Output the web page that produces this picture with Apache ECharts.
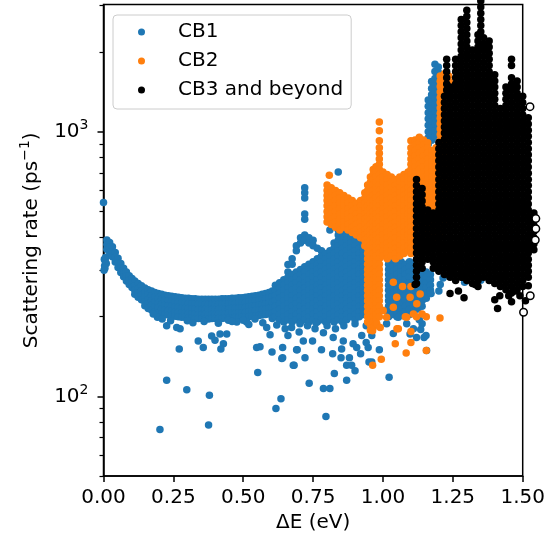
<!DOCTYPE html>
<html>
<head>
<meta charset="utf-8">
<script src="https://cdn.jsdelivr.net/npm/echarts@6.0.0/dist/echarts.min.js"></script>
<style>html,body{margin:0;padding:0;background:#fff}#c{width:551px;height:537px}</style>
</head>
<body>
<div id="c"></div>
<script>
// ---------------- data ----------------
const xTicks = [0, 0.25, 0.5, 0.75, 1.0, 1.25, 1.5];
const yMajorTicks = [100, 1000];
const yMinorTicks = [50, 60, 70, 80, 90, 200, 300, 400, 500, 600, 700, 800, 900, 2000, 3000];
const seriesNames = ['CB1', 'CB2', 'CB3 and beyond'];

// CB1: points at the left edge
const cb1Edge = [[0.0,541],[0.002,300],[0.003,330],[0.004,312],[0.006,325],[0.008,336],[0.01,318],[0.005,305]];
// CB1: the curved band (columns: x, list of y)
const cb1Band = [
[0.012,[390,375,360]],[0.022,[382,366,350]],[0.032,[368,352,337]],[0.042,[350,336,322]],
[0.052,[333,320,307]],[0.062,[318,306,294]],[0.072,[305,294,283]],[0.082,[295,284,273]],
[0.092,[286,275,265]],[0.102,[279,268,258]],[0.112,[273,262,252,243]],[0.124,[267,256,246,237]],
[0.136,[262,251,241,232]],[0.148,[257,247,237,228,220]],[0.160,[253,243,233,224,215]],
[0.172,[250,240,230,221,212]],[0.184,[247,237,227,218,209]],[0.196,[245,235,225,216,207]],
[0.208,[243,233,223,214,205]],[0.220,[241,231,221,212,204]],[0.232,[240,230,220,211,203]],
[0.244,[239,229,219,210,202]],[0.256,[238,228,218,209,201]],[0.268,[237,227,217,208,200]],
[0.280,[236,226,216,207,199]],[0.292,[235,225,215,206,199]],[0.304,[235,225,215,206,198]],
[0.316,[234,224,214,205,198]],[0.328,[234,224,214,205,197]],[0.340,[233,223,213,204,197]],
[0.352,[233,223,213,204,197]],[0.364,[233,223,213,204,196]],[0.376,[233,223,213,204,196]],
[0.388,[233,223,213,204,197]],[0.400,[233,223,213,204,197]],[0.412,[233,223,213,205,197]],
[0.424,[234,224,214,205,197]],[0.436,[234,224,214,205,198]],[0.448,[234,224,214,206,198]],
[0.460,[235,225,215,206,198]],[0.472,[235,225,215,206,199]],[0.484,[236,226,216,207,199]],
[0.496,[236,226,216,207,199]],[0.508,[237,227,217,208,200]],[0.520,[238,228,218,209,200]],
[0.532,[239,229,219,210,201]],[0.544,[240,230,220,211,201]],[0.556,[241,231,221,212,202]],
[0.568,[243,233,223,213,203]],[0.580,[245,234,224,214,204]],[0.592,[247,236,225,215,205]],
[0.604,[250,238,227,216,206,197]]
];
// CB1: the fan between 0.6 and 0.95 eV
const cb1Fan = [
[0.615,[263,252,240,230,219,209,200]],
[0.630,[269,257,246,235,224,214,204,195]],
[0.645,[276,263,252,240,230,219,209,200,191]],
[0.660,[315,295,282,269,257,246,235,224,214,204,195]],
[0.675,[331,316,289,276,263,252,240,230,219,209,200,191]],
[0.690,[371,355,295,282,269,257,246,235,224,214,204,195]],
[0.705,[398,380,302,289,276,263,252,240,230,219,209,200,191]],
[0.720,[615,588,562,489,467,407,389,309,295,282,269,257,246,235,224,214,204,195]],
[0.735,[398,380,316,302,289,276,263,252,240,230,219,209,200,191]],
[0.750,[389,371,323,309,295,282,269,257,246,235,224,214,204,195]],
[0.765,[363,331,316,302,289,276,263,252,240,230,219,209,200,191]],
[0.780,[355,339,323,309,295,282,269,257,246,235,224,214,204,195]],
[0.795,[347,331,316,302,289,276,263,252,240,230,219,209,200,191]],
[0.810,[426,355,339,323,309,295,282,269,257,246,235,224,214,204,195]],
[0.825,[380,363,347,331,316,302,289,276,263,252,240,230,219,209,200,191]],
[0.840,[705,588,562,467,446,426,407,389,371,355,339,323,309,295,282,269,257,246,235,224,214,204,195]],
[0.855,[500,456,436,416,398,380,363,347,331,316,302,289,276,263,252,240,230,219,209,200,191]],
[0.870,[446,426,407,389,371,355,339,323,309,295,282,269,257,246,235,224,214,204,195]],
[0.885,[456,436,416,398,380,363,347,331,316,302,289,276,263,252,240,230,219,209,200]],
[0.900,[446,426,407,389,371,355,339,323,309,295,282,269,257,246,235,224,214,204,195]],
[0.915,[436,416,398,380,363,347,331,316,302,289,276,263,252,240,230,219,209,200]],
[0.930,[407,389,371,355,339,323,309,295,282,269,257,246,235,224,214,204]]
];
// CB1: region right of 1 eV
const cb1Right = [
[1.020,[331,316,302,289,276,263,252,240,230,219,209,200]],
[1.035,[323,309,295,282,269,257,246,235,224,214,204]],
[1.050,[331,316,302,289,276,263,252,240,230,219,209,200]],
[1.065,[323,309,295,282,269,257,246,235,224,214,204]],
[1.080,[316,302,289,276,263,252,240,230,219,209,200]],
[1.095,[323,309,295,282,269,257,246,235,224,214,204]],
[1.110,[316,302,289,276,263,252,240,230,219,209]],
[1.125,[309,295,282,269,257,246,235,224,214]],
[1.140,[302,289,276,263,252,240,230,219]],
[1.155,[295,282,269,257,246,235]],
[1.170,[289,276,263,252,245]],
[1.162,[900,950,1000,1060,1120,1180,1250,1320]],
[1.174,[930,980,1040,1100,1160,1230,1300,1380,1460,1550]],
[1.186,[960,1010,1070,1130,1200,1270,1340,1420,1500,1590,1690,1800]],
[1.198,[1000,1060,1120,1190,1260,1330,1410,1490,1580,1680,1760]]
];
const cb1Single = [
[1.2,250],[1.205,265],[1.215,280],[1.22,300],[1.25,320],[1.28,340],[1.292,270],[1.30,290],[1.321,316],
[1.334,390],[1.345,300],[1.35,275],[1.34,330],[1.37,400],[1.375,420],[1.39,360],[1.44,400],[1.46,410],
[0.193,199],[0.226,185],[0.262,182],[0.274,180],[0.271,151],[0.339,162],[0.357,153],[0.387,169],[0.399,163],
[0.411,189],[0.417,172],[0.429,158],[0.420,151],[0.441,172],[0.447,194],[0.477,191],[0.512,191],[0.542,196],
[0.548,153],[0.560,154],[0.584,182],[0.596,171],[0.603,147],[0.638,139],[0.641,153],[0.679,131],[0.691,150],
[0.226,115],[0.298,106],[0.379,101],[0.202,75],[0.376,78],[0.552,123],[0.635,98],[0.617,90],[0.796,84],
[0.736,112],[0.787,107],[0.810,107],[0.826,122],[0.870,115],[1.022,118],[0.682,131],[0.721,140],[0.641,140],
[0.693,150],[0.715,162],[0.748,162],[0.852,151],[0.870,131],[0.888,131],[0.960,135],[0.987,150],[0.947,153],
[0.906,153],[0.893,158],[0.858,162],[0.822,167],[0.787,174],[0.757,180],[0.673,182],[0.703,188],[0.924,170],
[0.960,170],[1.097,172],[1.120,167],[1.147,167],[1.156,149],[1.140,188],[1.135,179],[1.169,251],[1.172,245],
[1.109,180],[1.085,188],[1.055,199],[1.037,173],[1.013,188],[1.154,170],[1.13,195],
[0.178,205],[0.21,196],[0.24,193],[0.30,193],[0.32,190],[0.36,192],[0.46,192],[0.5,194],[0.52,187],[0.57,190],
[0.62,186],[0.65,180],[0.66,170],[0.70,175],[0.73,185],[0.76,190],[0.80,185],[0.83,180],[0.86,185],[0.90,188],
[0.94,185],[0.78,150],[0.82,145],[0.85,140],[0.88,140],[0.92,145],[0.94,160],[0.90,125],[0.95,135]
];

// CB2 columns
const cb2Cols = [
[0.800,[630,600,575,550,525,500,478,456]],
[0.815,[615,588,562,537,512,489,467,446]],
[0.830,[600,575,550,525,500,478,456,436]],
[0.845,[588,562,537,512,489,467,446,426]],
[0.860,[575,550,525,500,478,456,436]],
[0.875,[562,537,512,489,467,446,426]],
[0.890,[550,525,500,478,456,436,416]],
[0.905,[537,512,489,467,446,426,407]],
[0.920,[550,525,500,478,456,436,416,398]],
[0.935,[588,562,537,512,489,467,446,426,407,389,371]],
[0.945,[630,600,575,550,525,500,478,456,436,416,398,380,363,347,331,316,302,289,276,263,252,240,230,219,209,200,191]],
[0.955,[675,645,615,588,562,537,512,489,467,446,426,407,389,371,355,339,323,309,295,282,269,257,246,235,224,214,204,195,186,178]],
[0.965,[720,690,660,630,600,575,550,525,500,478,456,436,416,398,380,363,347,331,316,302,289,276,263,252,240,230,219,209,200,191,182]],
[0.975,[738,705,675,645,615,588,562,537,512,489,467,446,426,407,389,371,355,339,323,309,295,282,269,257,246,235,224,214,204,195,186]],
[0.987,[1090,1010,925,870,830,790,755,720,690,660,630,600,575,550,525,500,478,456,436,416,398,380,363,347,331,316,302,289,276,263,252,240,230,219,209,200]],
[1.000,[705,675,645,615,588,562,537,512,489,467,446,426,407,389,371,355,339]],
[1.015,[690,660,630,600,575,550,525,500,478,456,436,416,398,380,363,347,331]],
[1.030,[675,645,615,588,562,537,512,489,467,446,426,407,389,371,355,339]],
[1.045,[660,630,600,575,550,525,500,478,456,436,416,398,380,363,347,331]],
[1.060,[675,645,615,588,562,537,512,489,467,446,426,407,389,371,355,339]],
[1.075,[690,660,630,600,575,550,525,500,478,456,436,416,398,380,363,347]],
[1.090,[705,675,645,615,588,562,537,512,489,467,446,426,407,389,371,355]],
[1.100,[925,870,830,790,755,720,690,660,630,600,575,550,525,500,478,456,436,416,398,380,363,347]],
[1.115,[932,890,850,810,772,738,705,675,645,615,588,562,537,512,489,467,446,426,407,389,371,355]],
[1.130,[955,910,870,830,790,755,720,690,660,630,600,575,550,525,500,478,456,436,416,398,380,363]],
[1.145,[932,890,850,810,772,738,705,675,645,615,588,562,537,512,489,467,446,426,407,389,371]],
[1.160,[910,870,830,790,755,720,690,660,630,600,575,550,525,500,478,456,436,416,398,380]],
[1.175,[850,810,772,738,705,675,645,615,588,562,537,512,489,467,446,426,407,389]],
[1.190,[870,830,790,755,720,690,660,630,600,575,550,525,500,478,456,436,416,398]],
[1.205,[1625,1555,1485,1415,1350,1290,1230,1175,1125,1075,1025,977,932,890,850,810,772,738,705,675,645,615,588,562,537,512,489,467,446,426,407]],
[1.220,[1660,1590,1520,1450,1380,1320,1260,1200,1150,1100,1050,1000,955,910,870,830,790,755,720,690,660,630,600,575,550,525,500,478,456]],
[1.235,[1625,1555,1485]],
[1.245,[1520,1450]]
];
const cb2Single = [
[0.808,685],[1.155,200],[1.044,158],[1.083,146],[1.155,149],[0.994,138],[0.963,131],[1.10,160],[0.963,177],
[1.10,176],[1.055,180],[1.037,270],[1.07,260],[1.10,260],[1.097,237],[1.049,237],[1.133,244],[1.121,224],
[1.109,205],[1.085,199],[1.013,199],[1.037,217],[1.001,211],[1.204,198],[0.978,188],[0.99,182],[1.12,200],
[1.14,205],[1.08,200],[1.05,180]
];

// CB3 columns
const cb3Cols = [
[1.12,[267,282,297,313,330,348,367,387,408,431,455,480,506,534,563,594,627,661]],
[1.14,[305,322,339,358,377,398,420,443,467,493,520,548,579,611]],
[1.16,[330,348,367,387,408,431,455,480,506]],
[1.18,[305,322,339,358,377,398,420,443,467,493]],
[1.20,[297,313,330,348,367,387,408,431,455,480,506,534,563,594,627,661,698,736,777,819,864,912]],
[1.22,[289,305,322,339,358,377,398,420,443,467,493,520,548,579,611,644,680,717,757,798,842,888,937,989,1043,1100,1161,1225,1292,1363]],
[1.228,[1438,1517,1601,1689,1782,1880]],
[1.24,[282,297,313,330,348,367,387,408,431,455,480,506,534,563,594,627,661,698,736,777,819,864,912,962,1015,1071,1130,1192,1258,1327,1400,1477]],
[1.26,[274,289,305,322,339,358,377,398,420,443,467,493,520,548,579,611,644,680,717,757,798,842,888,937,989,1043,1100,1161,1225,1292,1363,1438,1517,1601,1689,1782,1880]],
[1.28,[282,297,313,330,348,367,387,408,431,455,480,506,534,563,594,627,661,698,736,777,819,864,912,962,1015,1071,1130,1192,1258,1327,1400,1477,1558,1644,1734,1830,1930,2037,2149,2267,2392,2523,2662]],
[1.30,[274,289,305,322,339,358,377,398,420,443,467,493,520,548,579,611,644,680,717,757,798,842,888,937,989,1043,1100,1161,1225,1292,1363,1438,1517,1601,1689,1782,1880,1983,2092,2207,2329,2457,2592,2735,2885]],
[1.32,[267,282,297,313,330,348,367,387,408,431,455,480,506,534,563,594,627,661,698,736,777,819,864,912,962,1015,1071,1130,1192,1258,1327,1400,1477,1558,1644,1734,1830,1930,2037]],
[1.34,[260,274,289,305,322,339,358,377,398,420,443,467,493,520,548,579,611,644,680,717,757,798,842,888,937,989,1043,1100,1161,1225,1292,1363,1438,1517,1601,1689,1782,1880,1983,2092,2207,2329]],
[1.35,[2392,2523,2662,2809,2963,3126]],
[1.36,[282,297,313,330,348,367,387,408,431,455,480,506,534,563,594,627,661,698,736,777,819,864,912,962,1015,1071,1130,1192,1258,1327,1400,1477,1558,1644,1734,1830,1930,2037,2149,2267]],
[1.38,[274,289,305,322,339,358,377,398,420,443,467,493,520,548,579,611,644,680,717,757,798,842,888,937,989,1043,1100,1161,1225,1292,1363,1438,1517,1601,1689,1782,1880,1983,2092,2207]],
[1.40,[267,282,297,313,330,348,367,387,408,431,455,480,506,534,563,594,627,661,698,736,777,819,864,912,962,1015,1071,1130,1192,1258,1327,1400,1477,1558,1644]],
[1.42,[260,274,289,305,322,339,358,377,398,420,443,467,493,520,548,579,611,644,680,717,757,798,842,888,937,989,1043,1100,1161,1225]],
[1.44,[253,267,282,297,313,330,348,367,387,408,431,455,480,506,534,563,594,627,661,698,736,777,819,864,912,962,1015,1071,1130,1192,1258,1327,1400,1477]],
[1.46,[246,260,274,289,305,322,339,358,377,398,420,443,467,493,520,548,579,611,644,680,717,757,798,842,888,937,989,1043,1100,1161,1225,1292,1363,1438,1517,1601,1782,1880]],
[1.48,[253,267,282,297,313,330,348,367,387,408,431,455,480,506,534,563,594,627,661,698,736,777,819,864,912,962,1015,1071,1130,1192,1258,1327,1400,1477,1558]],
[1.50,[260,274,289,305,322,339,358,377,398,420,443,467,493,520,548,579,611,644,680,717,757,798,842,888,937,989,1043,1100,1161,1225,1292,1363]],
[1.52,[282,297,313,330,348,367,387,408,431,455,480,506,534,563,594,627,661,698,736,777,819,864,912,962,1015,1071,1130]],
[1.54,[358,377,398,420,443,467,493]]
];
const cb3Single = [
[1.115,265],[1.24,245],[1.25,290],[1.27,250],[1.285,282],[1.29,236],[1.31,300],[1.33,265],[1.37,331],
[1.40,232],[1.41,215],[1.418,240],[1.42,278],[1.45,240],[1.46,228],[1.475,250],[1.49,240],[1.51,230],[1.52,262]
];
const cb3Hollow = [[1.526,1245],[1.527,240],[1.503,208],[1.547,470],[1.547,430],[1.545,390]];

// ---------------- build ----------------
const flat = cols => cols.flatMap(([x, ys]) => ys.map(y => [x, y]));
const cb1 = cb1Edge.concat(flat(cb1Band), flat(cb1Fan), flat(cb1Right), cb1Single);
const cb2 = flat(cb2Cols).concat(cb2Single);
const cb3 = flat(cb3Cols).concat(cb3Single);

const FONT = 'DejaVu Sans';
const supRich = { sup: { fontSize: 14, fontFamily: FONT, color: '#000', padding: [0, 0, 13, 0] } };
const chart = echarts.init(document.getElementById('c'), null, { renderer: 'canvas' });
const scatterBase = { type: 'scatter', symbol: 'circle', symbolSize: 7.5, clip: false, silent: true,
  emphasis: { disabled: true }, animation: false, large: false };

chart.setOption({
  animation: false,
  textStyle: { fontFamily: FONT },
  grid: { left: 103.5, right: 28.3, top: 4.5, bottom: 61, show: true, borderColor: '#000', borderWidth: 1.5,
          backgroundColor: 'transparent', containLabel: false, outerBoundsMode: 'none' },
  legend: {
    data: seriesNames, orient: 'vertical', left: 113, top: 15, icon: 'circle',
    itemWidth: 35, itemHeight: 7, itemGap: 7, padding: [6, 8, 8, 25],
    borderColor: '#cccccc', borderWidth: 1, borderRadius: 4, backgroundColor: 'rgba(255,255,255,0.8)',
    textStyle: { fontSize: 20, fontFamily: FONT, color: '#000', lineHeight: 22, padding: [0, 0, 0, 14] },
    selectedMode: false
  },
  xAxis: {
    type: 'value', min: 0, max: 1.5, interval: 0.25,
    axisLine: { show: true, lineStyle: { color: '#000', width: 1.5 } },
    axisTick: { show: true, length: 6, lineStyle: { color: '#000', width: 1.5 } },
    axisLabel: { formatter: v => v.toFixed(2), color: '#000', fontSize: 20, fontFamily: FONT, margin: 12 },
    splitLine: { show: false },
    name: 'ΔE (eV)', nameLocation: 'middle', nameGap: 35,
    nameTextStyle: { fontSize: 20, fontFamily: FONT, color: '#000' }
  },
  yAxis: [{
    type: 'log', min: 50, max: 3030,
    axisLine: { show: true, lineStyle: { color: '#000', width: 1.5 } },
    axisTick: { show: true, length: 6, lineStyle: { color: '#000', width: 1.5 }, customValues: yMajorTicks },
    axisLabel: { customValues: yMajorTicks, color: '#000', fontSize: 20, fontFamily: FONT, margin: 15,
      formatter: v => '10{sup|' + Math.round(Math.log10(v)) + '}', rich: supRich },
    splitLine: { show: false }, minorTick: { show: false },
    name: 'Scattering rate (ps{sup|−1})', nameLocation: 'middle', nameGap: 58,
    nameTextStyle: { fontSize: 20, fontFamily: FONT, color: '#000', rich: supRich }
  }, {
    type: 'log', min: 50, max: 3030, position: 'left',
    axisLine: { show: false },
    axisTick: { show: true, length: 4, lineStyle: { color: '#000', width: 1.2 }, customValues: yMinorTicks },
    axisLabel: { show: false }, splitLine: { show: false }
  }],
  series: [
    Object.assign({}, scatterBase, { name: seriesNames[0], data: cb1, itemStyle: { color: '#1f77b4', opacity: 1 } }),
    Object.assign({}, scatterBase, { name: seriesNames[1], data: cb2, itemStyle: { color: '#ff7f0e', opacity: 1 } }),
    Object.assign({}, scatterBase, { name: seriesNames[2], data: cb3, itemStyle: { color: '#000000', opacity: 1 } }),
    Object.assign({}, scatterBase, { name: seriesNames[2], data: cb3Hollow,
      itemStyle: { color: '#ffffff', borderColor: '#000000', borderWidth: 1.5, opacity: 1 } })
  ]
});
</script>
</body>
</html>
